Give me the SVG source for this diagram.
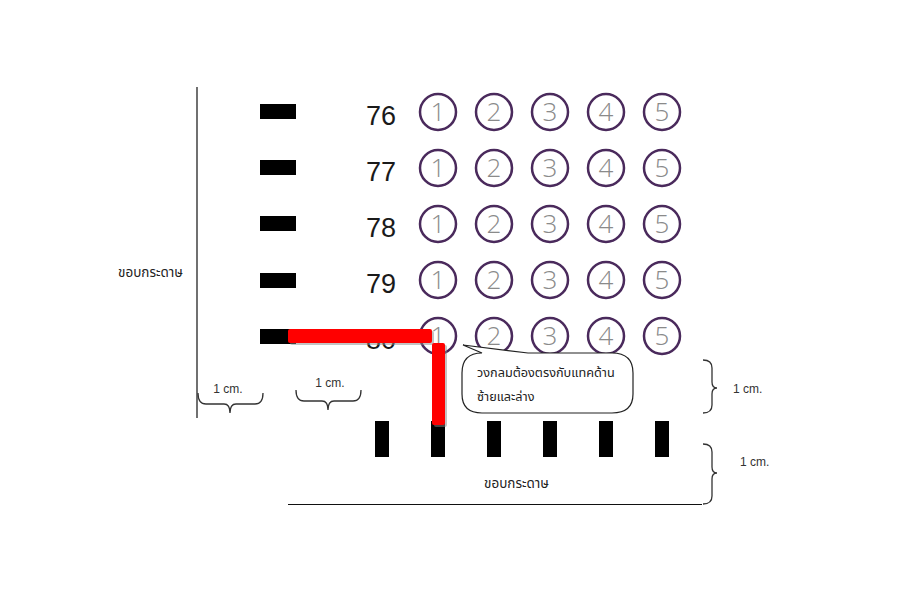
<svg xmlns="http://www.w3.org/2000/svg" width="906" height="604" viewBox="0 0 906 604">
<style>
.mark{fill:#000}
.num{font-family:"Liberation Sans",Arial,sans-serif;font-size:27px;fill:#1a1a1a}
.bub{fill:#fff;stroke:#4a2a5c;stroke-width:2.5}
.dig{font-family:"Open Sans","Liberation Sans",sans-serif;font-weight:300;font-size:26px;fill:#8a8a8a;text-anchor:middle}
.th{font-family:"Noto Sans Thai","Loma","Garuda","Noto Sans","DejaVu Sans",sans-serif;font-size:13.5px;fill:#222}
.note{font-size:12.7px}
.lbl{font-family:"Liberation Sans",Arial,sans-serif;font-size:12px;fill:#333}
.brace{fill:none;stroke:#333;stroke-width:1.3}
.edge{stroke:#111;stroke-width:1.2}
</style>
<rect width="906" height="604" fill="#fff"/>
<g id="paper-edges">
<line class="edge" x1="197" y1="87" x2="197" y2="418"/>
<line class="edge" x1="288" y1="504.5" x2="702" y2="504.5"/>
<text class="th" x="118" y="277">ขอบกระดาษ</text>
<text class="th" x="484" y="488">ขอบกระดาษ</text>
</g>
<g id="left-marks">
<rect class="mark" x="260" y="104" width="36" height="15"/>
<rect class="mark" x="260" y="160" width="36" height="15"/>
<rect class="mark" x="260" y="216" width="36" height="15"/>
<rect class="mark" x="260" y="273" width="36" height="15"/>
<rect class="mark" x="260" y="329" width="36" height="15"/>
</g>
<g id="bottom-marks">
<rect class="mark" x="375" y="421" width="14" height="36"/>
<rect class="mark" x="431" y="421" width="14" height="36"/>
<rect class="mark" x="487" y="421" width="14" height="36"/>
<rect class="mark" x="543" y="421" width="14" height="36"/>
<rect class="mark" x="599" y="421" width="14" height="36"/>
<rect class="mark" x="655" y="421" width="14" height="36"/>
</g>
<g id="row-76">
<text class="num" x="366" y="125">76</text>
<circle class="bub" cx="438" cy="112" r="18"/><text class="dig" x="438" y="121">1</text>
<circle class="bub" cx="494" cy="112" r="18"/><text class="dig" x="494" y="121">2</text>
<circle class="bub" cx="550" cy="112" r="18"/><text class="dig" x="550" y="121">3</text>
<circle class="bub" cx="606" cy="112" r="18"/><text class="dig" x="606" y="121">4</text>
<circle class="bub" cx="662" cy="112" r="18"/><text class="dig" x="662" y="121">5</text>
</g>
<g id="row-77">
<text class="num" x="366" y="181">77</text>
<circle class="bub" cx="438" cy="168" r="18"/><text class="dig" x="438" y="177">1</text>
<circle class="bub" cx="494" cy="168" r="18"/><text class="dig" x="494" y="177">2</text>
<circle class="bub" cx="550" cy="168" r="18"/><text class="dig" x="550" y="177">3</text>
<circle class="bub" cx="606" cy="168" r="18"/><text class="dig" x="606" y="177">4</text>
<circle class="bub" cx="662" cy="168" r="18"/><text class="dig" x="662" y="177">5</text>
</g>
<g id="row-78">
<text class="num" x="366" y="237">78</text>
<circle class="bub" cx="438" cy="224" r="18"/><text class="dig" x="438" y="233">1</text>
<circle class="bub" cx="494" cy="224" r="18"/><text class="dig" x="494" y="233">2</text>
<circle class="bub" cx="550" cy="224" r="18"/><text class="dig" x="550" y="233">3</text>
<circle class="bub" cx="606" cy="224" r="18"/><text class="dig" x="606" y="233">4</text>
<circle class="bub" cx="662" cy="224" r="18"/><text class="dig" x="662" y="233">5</text>
</g>
<g id="row-79">
<text class="num" x="366" y="293">79</text>
<circle class="bub" cx="438" cy="280" r="18"/><text class="dig" x="438" y="289">1</text>
<circle class="bub" cx="494" cy="280" r="18"/><text class="dig" x="494" y="289">2</text>
<circle class="bub" cx="550" cy="280" r="18"/><text class="dig" x="550" y="289">3</text>
<circle class="bub" cx="606" cy="280" r="18"/><text class="dig" x="606" y="289">4</text>
<circle class="bub" cx="662" cy="280" r="18"/><text class="dig" x="662" y="289">5</text>
</g>
<g id="row-80">
<text class="num" x="366" y="349">80</text>
<circle class="bub" cx="438" cy="336" r="18"/><text class="dig" x="438" y="345">1</text>
<circle class="bub" cx="494" cy="336" r="18"/><text class="dig" x="494" y="345">2</text>
<circle class="bub" cx="550" cy="336" r="18"/><text class="dig" x="550" y="345">3</text>
<circle class="bub" cx="606" cy="336" r="18"/><text class="dig" x="606" y="345">4</text>
<circle class="bub" cx="662" cy="336" r="18"/><text class="dig" x="662" y="345">5</text>
</g>
<g id="connectors">
<rect x="290" y="331" width="144" height="14" rx="2" fill="#888" opacity="0.5"/>
<rect x="434" y="345" width="13" height="82" rx="2" fill="#888" opacity="0.5"/>
<rect x="288" y="329" width="144" height="14" rx="2" fill="#f00"/>
<rect x="432" y="343" width="13" height="82" rx="2" fill="#f00"/>
</g>
<g id="callout">
<path d="M482,353 L463,345 L528,353 L612,353 Q633,353 633,373 L633,394 Q633,413 612,413 L482,413 Q462,413 462,394 L462,373 Q462,353 482,353 Z" fill="#fff" stroke="#222" stroke-width="1.2"/>
<text class="th note" x="477" y="377">วงกลมต้องตรงกับแทคด้าน</text>
<text class="th note" x="477" y="401">ซ้ายและล่าง</text>
</g>
<g id="measures">
<path class="brace" d="M198,393 Q198,404 206,404 L224,404 Q230,404 230,413 Q230,404 236,404 L255,404 Q263,404 263,393"/>
<text class="lbl" x="228" y="393" text-anchor="middle">1 cm.</text>
<path class="brace" d="M296,390 Q296,401 304,401 L322,401 Q328,401 328,410 Q328,401 334,401 L353,401 Q361,401 361,390"/>
<text class="lbl" x="330" y="387" text-anchor="middle">1 cm.</text>
<path class="brace" d="M703,360 Q712,360 712,368 L712,382 Q712,388 717,388 Q712,388 712,394 L712,405 Q712,413 703,413"/>
<text class="lbl" x="733" y="393">1 cm.</text>
<path class="brace" d="M703,444 Q712,444 712,452 L712,467 Q712,473 717,473 Q712,473 712,479 L712,496 Q712,504 703,504"/>
<text class="lbl" x="740" y="466">1 cm.</text>
</g>
</svg>
